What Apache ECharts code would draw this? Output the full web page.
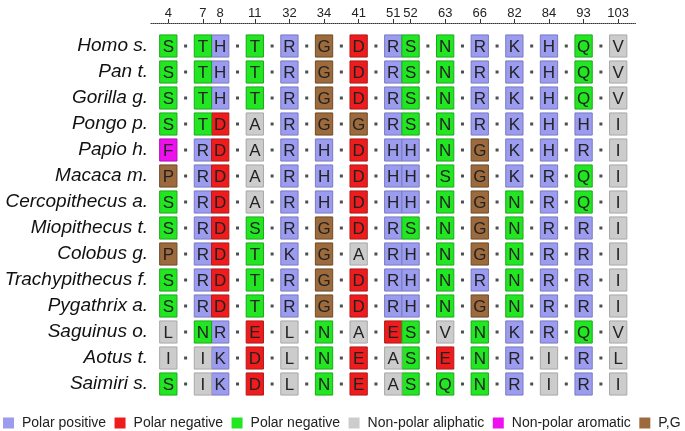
<!DOCTYPE html>
<html><head><meta charset="utf-8">
<script src="https://cdn.jsdelivr.net/npm/echarts@6/dist/echarts.min.js"></script>
<style>html,body{margin:0;padding:0;background:#fff}#c{width:685px;height:431px}</style>
</head><body><div id="c"></div>
<script>
// Alignment positions (column headers)
const positions = [4, 7, 8, 11, 32, 34, 41, 51, 52, 63, 66, 82, 84, 93, 103];
// Species (rows)
const species = ['Homo s.', 'Pan t.', 'Gorilla g.', 'Pongo p.', 'Papio h.', 'Macaca m.',
  'Cercopithecus a.', 'Miopithecus t.', 'Colobus g.', 'Trachypithecus f.', 'Pygathrix a.',
  'Saguinus o.', 'Aotus t.', 'Saimiri s.'];
// Residues at each position, one string per species
const residues = [
  'STHTRGDRSNRKHQV',
  'STHTRGDRSNRKHQV',
  'STHTRGDRSNRKHQV',
  'STDARGGRSNRKHHI',
  'FRDARHDHHNGKHRI',
  'PRDARHDHHSGKRQI',
  'SRDARHDHHNGNRQI',
  'SRDSRGDRSNGNRRI',
  'PRDTKGARHNGNRRI',
  'SRDTRGDRHNRNRRI',
  'SRDTRGDRHNGNRRI',
  'LNRELNAESVNKRQV',
  'IIKDLNEASENRIRL',
  'SIKDLNEASQNRIRI'
];
// Residue classes (legend)
const classNames = ['Polar positive', 'Polar negative', 'Polar negative', 'Non-polar aliphatic', 'Non-polar aromatic', 'P,G'];
const classResidues = ['RHK', 'DE', 'STNQ', 'AVIL', 'F', 'PG'];
const classColors = ['#9b9bef', '#ee1c1c', '#22e622', '#cccccc', '#ee11ee', '#9c6a3c'];
const classBorders = ['#7a7ac4', '#b01a1a', '#1aa81a', '#a8a8a8', '#b010b0', '#6e4a28'];

// slot layout: consecutive positions sit side by side, otherwise a separator dot between
const slots = [];
const dotSlots = [];
positions.forEach((p, i) => {
  if (i === 0) { slots.push(0); return; }
  if (p - positions[i - 1] === 1) slots.push(slots[i - 1] + 1);
  else { dotSlots.push(slots[i - 1] + 1); slots.push(slots[i - 1] + 2); }
});
const maxSlot = slots[slots.length - 1];

const chart = echarts.init(document.getElementById('c'));
const font = '"Liberation Sans", Arial, sans-serif';

const series = classNames.map((nm, ci) => {
  const data = [];
  const letters = [];
  residues.forEach((row, ri) => {
    for (let k = 0; k < row.length; k++) {
      if (classResidues[ci].indexOf(row[k]) >= 0) {
        data.push([slots[k], ri]);
        letters.push(row[k]);
      }
    }
  });
  return {
    name: 'c' + ci,
    type: 'custom',
    color: classColors[ci],
    itemStyle: { color: classColors[ci] },
    data: data,
    renderItem: (params, api) => {
      const p = api.coord([api.value(0), api.value(1)]);
      const w = api.size([1, 0])[0];
      const h = api.size([0, 1])[1] * 0.85;
      return {
        type: 'group', children: [
          { type: 'rect', shape: { x: p[0] - w / 2, y: p[1] - h / 2, width: w, height: h },
            style: { fill: classColors[ci], stroke: classBorders[ci], lineWidth: 1 } },
          { type: 'text', style: { x: p[0], y: p[1] + 1, text: letters[params.dataIndex],
            align: 'center', verticalAlign: 'middle', font: '17px ' + font, fill: '#222' } }
        ]
      };
    }
  };
});

const dotData = [];
species.forEach((s, ri) => dotSlots.forEach(d => dotData.push([d, ri])));
series.push({
  type: 'scatter', symbol: 'rect', symbolSize: 3, silent: true,
  itemStyle: { color: '#222' }, data: dotData
});

chart.setOption({
  animation: false,
  backgroundColor: '#fff',
  grid: { left: 151, right: 49.5, top: 33, bottom: 34 },
  xAxis: {
    type: 'value', position: 'top', offset: 10, min: -1, max: maxSlot + 1,
    splitLine: { show: false },
    axisLine: { show: true, lineStyle: { color: '#333', type: 'dotted', width: 1 } },
    axisTick: { show: true, length: 4, lineStyle: { color: '#333' }, customValues: slots },
    axisLabel: { show: true, customValues: slots, margin: 3, fontSize: 13, color: '#222', fontFamily: font,
      formatter: v => { const i = slots.indexOf(v); return i >= 0 ? String(positions[i]) : ''; } }
  },
  yAxis: {
    type: 'category', inverse: true, data: species,
    axisLine: { show: false }, axisTick: { show: false }, splitLine: { show: false },
    axisLabel: { fontSize: 19, fontStyle: 'italic', color: '#111', margin: 3, fontFamily: font }
  },
  legend: {
    data: classNames.map((n, i) => 'c' + i),
    formatter: n => classNames[+n.slice(1)],
    left: 3, top: 416, padding: 0, itemWidth: 11, itemHeight: 11, itemGap: 8.5, icon: 'rect',
    itemStyle: { borderWidth: 0 },
    textStyle: { fontSize: 14, color: '#222', fontFamily: font, padding: [0, 0, 0, 3] }
  },
  series: series
});
</script></body></html>
